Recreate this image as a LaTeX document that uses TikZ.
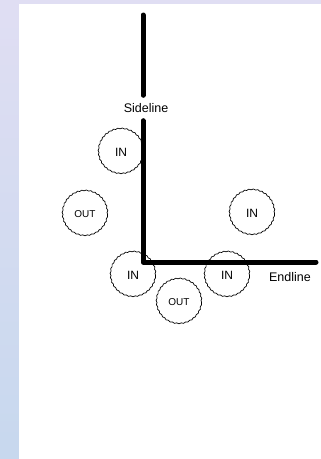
\documentclass[tikz,border=0pt]{standalone}
\usepackage{fontspec}
\setmainfont{Liberation Sans}
\usetikzlibrary{decorations.pathmorphing}
\definecolor{stripA}{RGB}{224,222,243}
\definecolor{stripB}{RGB}{199,216,238}

\begin{document}
\begin{tikzpicture}[x=1pt,y=-1pt,
    player/.style={circle, draw, line width=0.7pt, minimum size=45pt, inner sep=0pt,
      decorate, decoration={snake, segment length=4.5pt, amplitude=0.45pt}},
    boundary/.style={line width=5pt, line cap=round, line join=round}]

    \useasboundingbox (0,0) rectangle (321,459);
    % page background
    \shade[top color=stripA, bottom color=stripB] (0,0) rectangle (19,459);
    \fill[stripA] (0,0) rectangle (321,4);
    \fill[white] (19,4) rectangle (321,459);

    \coordinate (top) at (143,15);
    \coordinate (corner) at (143,262);
    \coordinate (lineend) at (316,262);
    \node [font=\fontsize{12.5}{12.5}\selectfont, inner sep=0pt, minimum height=25pt] (sideline) at (146,108) {Sideline};
    \node [font=\fontsize{12.5}{12.5}\selectfont] (endline) at (290,277) {Endline};

    \draw [boundary] (top) -- (top |- sideline.north);
    \draw [boundary] (corner |- sideline.south) -- (corner) -- (lineend);

    \node [player, font=\fontsize{12}{12}\selectfont] (in1) at (121,152) {IN};
    \node [player, font=\fontsize{10}{10}\selectfont] (out1) at (85,214) {OUT};
    \node [player, font=\fontsize{12}{12}\selectfont] (in2) at (252,213) {IN};
    \node [player, font=\fontsize{12}{12}\selectfont] (in3) at (133,275) {IN};
    \node [player, font=\fontsize{12}{12}\selectfont] (in4) at (227,275) {IN};
    \node [player, font=\fontsize{10}{10}\selectfont] (out2) at (179,302) {OUT};
\end{tikzpicture}
\end{document}
